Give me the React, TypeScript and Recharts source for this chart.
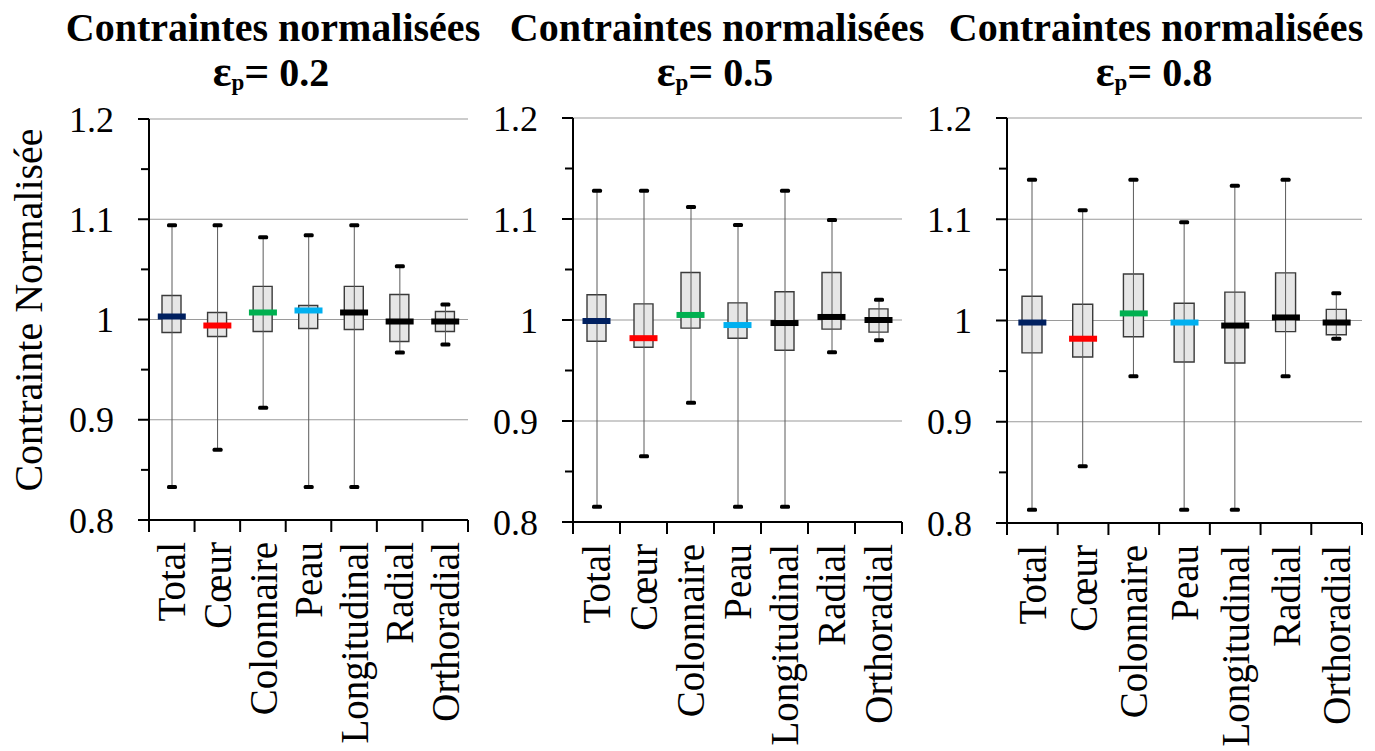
import React from 'react';
import { ComposedChart, Bar, Scatter, XAxis, YAxis, CartesianGrid } from 'recharts';

const categories = ['Total', 'Cœur', 'Colonnaire', 'Peau', 'Longitudinal', 'Radial', 'Orthoradial'];
const strainValues = ['0.2', '0.5', '0.8'];
const yTicks = [0.8, 0.85, 0.9, 0.95, 1, 1.05, 1.1, 1.15, 1.2];
const gridValues = [0.9, 1, 1.1, 1.2];

// eps_p = 0.2
const min02 = [0.833, 0.870, 0.912, 0.833, 0.833, 0.967, 0.975];
const q1_02 = [0.987, 0.983, 0.988, 0.991, 0.990, 0.978, 0.988];
const med02 = [1.003, 0.994, 1.007, 1.009, 1.007, 0.998, 0.998];
const q3_02 = [1.024, 1.007, 1.033, 1.014, 1.033, 1.025, 1.008];
const max02 = [1.094, 1.094, 1.082, 1.084, 1.094, 1.053, 1.015];

// eps_p = 0.5
const min05 = [0.815, 0.865, 0.918, 0.815, 0.815, 0.968, 0.980];
const q1_05 = [0.979, 0.973, 0.992, 0.982, 0.970, 0.991, 0.988];
const med05 = [0.999, 0.982, 1.005, 0.995, 0.997, 1.003, 1.000];
const q3_05 = [1.025, 1.016, 1.047, 1.017, 1.028, 1.047, 1.011];
const max05 = [1.128, 1.128, 1.112, 1.094, 1.128, 1.099, 1.020];

// eps_p = 0.8
const min08 = [0.813, 0.856, 0.945, 0.813, 0.813, 0.945, 0.982];
const q1_08 = [0.968, 0.964, 0.984, 0.959, 0.958, 0.989, 0.986];
const med08 = [0.998, 0.982, 1.007, 0.998, 0.995, 1.003, 0.998];
const q3_08 = [1.024, 1.016, 1.046, 1.017, 1.028, 1.047, 1.011];
const max08 = [1.139, 1.109, 1.139, 1.097, 1.133, 1.139, 1.027];

const medianColors = ['#002060', '#ff0000', '#00b050', '#00b0f0', '#000000', '#000000', '#000000'];

const FONT = '"Liberation Serif", "Times New Roman", serif';

const buildRows = (mins: number[], q1s: number[], meds: number[], q3s: number[], maxs: number[]) =>
  categories.map((name, i) => ({ name, idx: i, min: mins[i], q1: q1s[i], med: meds[i], q3: q3s[i], max: maxs[i] }));

const panels = [
  { rows: buildRows(min02, q1_02, med02, q3_02, max02), strain: strainValues[0], left: 149, right: 468, top: 119, bottom: 520, axisW: 149, box: 19, titleX: 273 },
  { rows: buildRows(min05, q1_05, med05, q3_05, max05), strain: strainValues[1], left: 573, right: 902, top: 118, bottom: 522, axisW: 95, box: 19, titleX: 717 },
  { rows: buildRows(min08, q1_08, med08, q3_08, max08), strain: strainValues[2], left: 1007, right: 1362, top: 118, bottom: 523, axisW: 95, box: 20, titleX: 1156 },
];

const X_AXIS_H = 225;

const Whisker = (props: any) => {
  const { x, y, width, height } = props;
  const cx = x + width / 2;
  const top = Math.min(y, y + height);
  const bot = Math.max(y, y + height);
  return (
    <g>
      <line x1={cx} x2={cx} y1={top} y2={bot} stroke="#5a5a5a" strokeWidth={1} />
      <rect x={cx - 5} y={top - 2} width={10} height={4} rx={1.5} fill="#000" />
      <rect x={cx - 5} y={bot - 2} width={10} height={4} rx={1.5} fill="#000" />
    </g>
  );
};

const MedianMark = (props: any) => {
  const { cx, cy, payload } = props;
  return <rect x={cx - 14} y={cy - 3} width={28} height={6} fill={medianColors[payload.idx]} />;
};

const YTick = (props: any) => {
  const { x, y, payload } = props;
  const v = payload.value;
  const major = Math.round(v * 100) % 10 === 0;
  return (
    <g>
      <line x1={x - (major ? 11 : 8)} x2={x} y1={y} y2={y} stroke="#000" strokeWidth={2} />
      {major && (
        <text x={x - 35} y={y} dy="0.35em" textAnchor="end" fontFamily={FONT} fontSize={36} fill="#000">
          {String(v)}
        </text>
      )}
    </g>
  );
};

// category label plus the tick marks on the band edges
const CategoryTick = (props: any) => {
  const { x, y, payload, index, visibleTicksCount, halfBand } = props;
  const off = payload.offset || halfBand;
  const ty = y + 22;
  return (
    <g>
      <line x1={x - off} x2={x - off} y1={y} y2={y + 12} stroke="#000" strokeWidth={2} />
      {index === visibleTicksCount - 1 && <line x1={x + off} x2={x + off} y1={y} y2={y + 12} stroke="#000" strokeWidth={2} />}
      <text x={x} y={ty} transform={`rotate(-90, ${x}, ${ty})`} textAnchor="end" dy="0.35em" fontFamily={FONT} fontSize={39} fill="#000">
        {payload.value}
      </text>
    </g>
  );
};

const Panel = ({ p }: { p: (typeof panels)[number] }) => {
  const width = p.axisW + (p.right - p.left) + 8;
  return (
    <div style={{ position: 'absolute', left: p.left - p.axisW, top: 0 }}>
      <ComposedChart
        width={width}
        height={751}
        data={p.rows}
        margin={{ top: p.top, right: 8, bottom: 751 - p.bottom - X_AXIS_H, left: 0 }}
      >
        <CartesianGrid xAxisId="a_cat" vertical={false} horizontalValues={gridValues} stroke="#9a9a9a" strokeWidth={1.2} />
        <XAxis
          xAxisId="a_cat"
          dataKey="name"
          type="category"
          interval={0}
          height={X_AXIS_H}
          axisLine={{ stroke: '#000', strokeWidth: 2 }}
          tickLine={false}
          tickSize={0}
          tickMargin={0}
          tick={<CategoryTick halfBand={(p.right - p.left) / 14} />}
        />
        <XAxis xAxisId="b_box" dataKey="name" type="category" hide />
        <YAxis
          type="number"
          domain={[0.8, 1.2]}
          ticks={yTicks}
          interval={0}
          width={p.axisW}
          allowDataOverflow
          axisLine={{ stroke: '#000', strokeWidth: 2 }}
          tickLine={false}
          tickSize={0}
          tickMargin={0}
          tick={<YTick />}
        />
        <Bar
          xAxisId="b_box"
          dataKey={(d: any) => [d.q1, d.q3]}
          barSize={p.box}
          fill="#e6e6e6"
          stroke="#3a3a3a"
          strokeWidth={1.4}
          isAnimationActive={false}
        />
        <Bar xAxisId="a_cat" dataKey={(d: any) => [d.min, d.max]} barSize={10} shape={<Whisker />} isAnimationActive={false} />
        <Scatter xAxisId="a_cat" dataKey="med" shape={<MedianMark />} isAnimationActive={false} />
      </ComposedChart>
    </div>
  );
};

const App = () => {
  return (
    <div style={{ position: 'absolute', left: 0, top: 0, width: 1375, height: 751, background: '#fff' }}>
      {panels.map((p, i) => (
        <Panel key={i} p={p} />
      ))}
      <svg width={1375} height={751} style={{ position: 'absolute', left: 0, top: 0, pointerEvents: 'none' }}>
        {panels.map((p, i) => (
          <g key={i} fontFamily={FONT} fontWeight="bold" fill="#000">
            <text x={p.titleX} y={41} textAnchor="middle" fontSize={40}>
              Contraintes normalisées
            </text>
            <text x={p.titleX - 2} y={86} textAnchor="middle" fontSize={40}>
              <tspan fontSize={44}>ε</tspan>
              <tspan fontSize={23} dy={4}>p</tspan>
              <tspan fontSize={44} dy={-4}>=</tspan>
              <tspan> {p.strain}</tspan>
            </text>
          </g>
        ))}
        <text x={42} y={310} transform="rotate(-90, 42, 310)" textAnchor="middle" fontFamily={FONT} fontSize={40} fill="#000">
          Contrainte Normalisée
        </text>
      </svg>
    </div>
  );
};

export default App;
